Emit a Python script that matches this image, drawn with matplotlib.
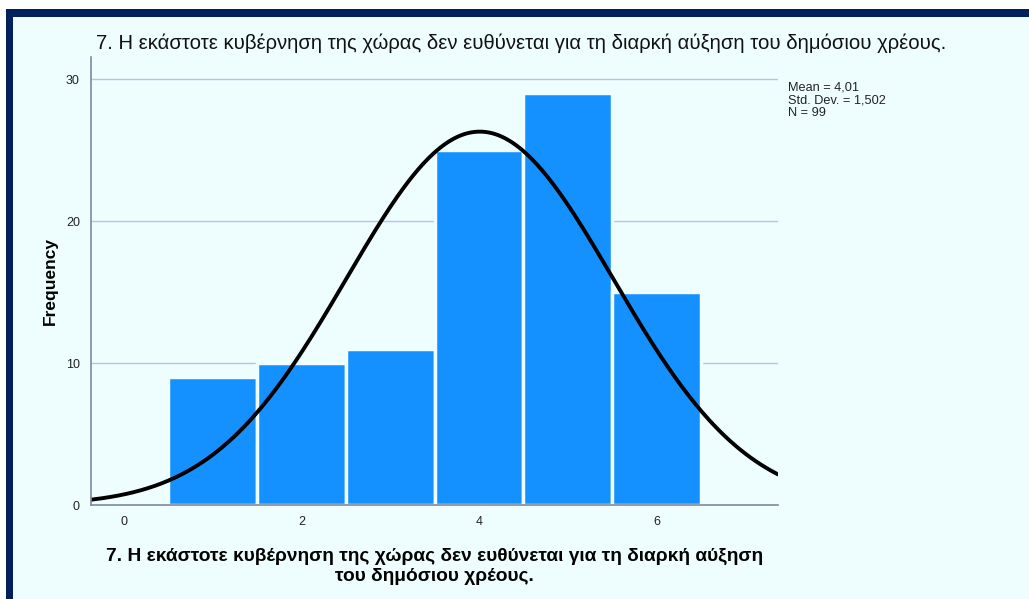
import numpy as np
import matplotlib.pyplot as plt
from matplotlib.patches import Rectangle

plt.rcParams['font.family'] = ['Liberation Sans', 'DejaVu Sans']

# histogram data
values = [1, 2, 3, 4, 5, 6]
counts = [9, 10, 11, 25, 29, 15]
mean = 4.01
std = 1.502
n = 99

title = "7. Η εκάστοτε κυβέρνηση της χώρας δεν ευθύνεται για τη διαρκή αύξηση του δημόσιου χρέους."
xlabel = "7. Η εκάστοτε κυβέρνηση της χώρας δεν ευθύνεται για τη διαρκή αύξηση\nτου δημόσιου χρέους."
xticks = [0, 2, 4, 6]
yticks = [0, 10, 20, 30]

bg = "#eefefe"
fig = plt.figure(figsize=[10.29, 5.99], dpi=100, facecolor=bg)
ax = fig.add_axes([91 / 1029, 1 - 505 / 599, (778 - 91) / 1029, (505 - 57) / 599])
ax.set_facecolor(bg)

# frame (top and left dark bars)
fig.patches.append(Rectangle((0, 0), 1, 1, transform=fig.transFigure,
                             facecolor="white", edgecolor="none", zorder=-3))
fig.patches.append(Rectangle((6 / 1029, 0), 1, 1 - 9 / 599, transform=fig.transFigure,
                             facecolor="#00215e", edgecolor="none", zorder=-2))
fig.patches.append(Rectangle((13 / 1029, 0), 1, 1 - 17 / 599, transform=fig.transFigure,
                             facecolor=bg, edgecolor="none", zorder=-1))

ax.bar(values, counts, width=1.0, color="#1490ff", edgecolor=bg, linewidth=2.5, zorder=2)

xs = np.linspace(-0.37, 7.37, 400)
ys = n * 1.0 / (std * np.sqrt(2 * np.pi)) * np.exp(-0.5 * ((xs - mean) / std) ** 2)
ax.plot(xs, ys, color="black", linewidth=2.8, zorder=3, solid_capstyle="round")

ax.set_xlim(-0.37, 7.37)
ax.set_ylim(0, 31.55)
ax.set_xticks(xticks)
ax.set_yticks(yticks)
ax.tick_params(length=0, labelsize=9, colors="#222222", pad=8)
ax.grid(axis="y", color="#b8c4e4", linewidth=1, zorder=0)
for s in ["top", "right"]:
    ax.spines[s].set_visible(False)
for s in ["left", "bottom"]:
    ax.spines[s].set_color("#8088a0")
    ax.spines[s].set_linewidth(1.2)
    ax.spines[s].set_zorder(4)

ax.set_ylabel("Frequency", fontsize=12.5, fontweight="bold", labelpad=6)
ax.set_xlabel(xlabel, fontsize=13.8, fontweight="bold", labelpad=14, linespacing=1.25)

fig.text(521 / 1029, 1 - 43 / 599, title, fontsize=14.6, ha="center", va="center", color="#111111")
fig.text(788 / 1029, 1 - 82 / 599,
         "Mean = 4,01\nStd. Dev. = 1,502\nN = %d" % n,
         fontsize=9.2, ha="left", va="top", linespacing=1.05, color="#222222")

fig.savefig("out.png", dpi=100, facecolor=fig.get_facecolor())
